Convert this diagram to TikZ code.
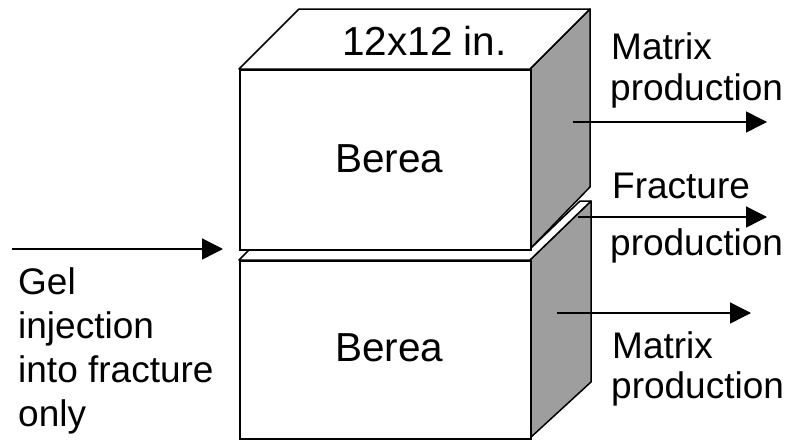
\documentclass[tikz,border=0pt]{standalone}
\usepackage{fontspec}
\setmainfont{Liberation Sans}
\usetikzlibrary{arrows.meta}
\definecolor{shade}{gray}{0.62}
\tikzset{
 px/.style={x=1pt,y=-1pt},
 face/.style={draw=black,line width=1.5pt,fill=white,line join=round},
 sideface/.style={draw=black,line width=1.5pt,fill=shade,line join=round},
 flow/.style={draw=black,line width=1.5pt,-{Triangle[length=21pt,width=21pt]},shorten >=0pt},
 lab/.style={font=\fontsize{37}{40}\selectfont,anchor=base west,inner sep=0pt},
 big/.style={font=\fontsize{40.5}{44}\selectfont,anchor=base west,inner sep=0pt}
}
\begin{document}
\begin{tikzpicture}[px]
\useasboundingbox[fill=white] (0,0) rectangle (786,439);
% top block
\path[sideface] (590,9) -- (590,187) -- (530,249) -- (530,69) -- cycle;
\path[face] (239,69) -- (299,9) -- (590,9) -- (530,69) -- cycle;
% bottom block
\path[sideface] (591,201) -- (591,382) -- (530,438) -- (530,260) -- cycle;
% fracture strip
\path[face] (239,260) -- (250,249) -- (530,249) -- (580,201) -- (591,201) -- (530,260) -- cycle;
\node[draw=black,line width=1.5pt,fill=white,minimum width=291pt,minimum height=180pt,anchor=north west,inner sep=0pt] (top) at (239,69) {};
\node[draw=black,line width=1.5pt,fill=white,minimum width=291pt,minimum height=178pt,anchor=north west,inner sep=0pt] (bot) at (239,260) {};
\node[big] (tl) at (342,55) {12x12 in.};
\node[big] (b1) at (335,172) {Berea};
\node[big] (b2) at (335,361) {Berea};
\node[lab] (m1) at (611,59) {Matrix};
\node[lab] (m1b) at (610,100) {production};
\node[lab] (fr) at (612,198) {Fracture};
\node[lab] (frb) at (610,255) {production};
\node[lab] (m2) at (612,358) {Matrix};
\node[lab] (m2b) at (611,398) {production};
\node[lab] (g1) at (18,294) {Gel};
\node[lab] (g2) at (18,338) {injection};
\node[lab] (g3) at (18,382) {into fracture};
\node[lab] (g4) at (18,426) {only};
\coordinate (a1s) at (12,249); \coordinate (a1e) at (223,249);
\coordinate (a2s) at (573,122); \coordinate (a2e) at (767,122);
\coordinate (a3s) at (578,217); \coordinate (a3e) at (767,217);
\coordinate (a4s) at (557,313); \coordinate (a4e) at (751,313);
\draw[flow] (a1s) -- (a1e);
\draw[flow] (a2s) -- (a2e);
\draw[flow] (a3s) -- (a3e);
\draw[flow] (a4s) -- (a4e);
\end{tikzpicture}
\end{document}
